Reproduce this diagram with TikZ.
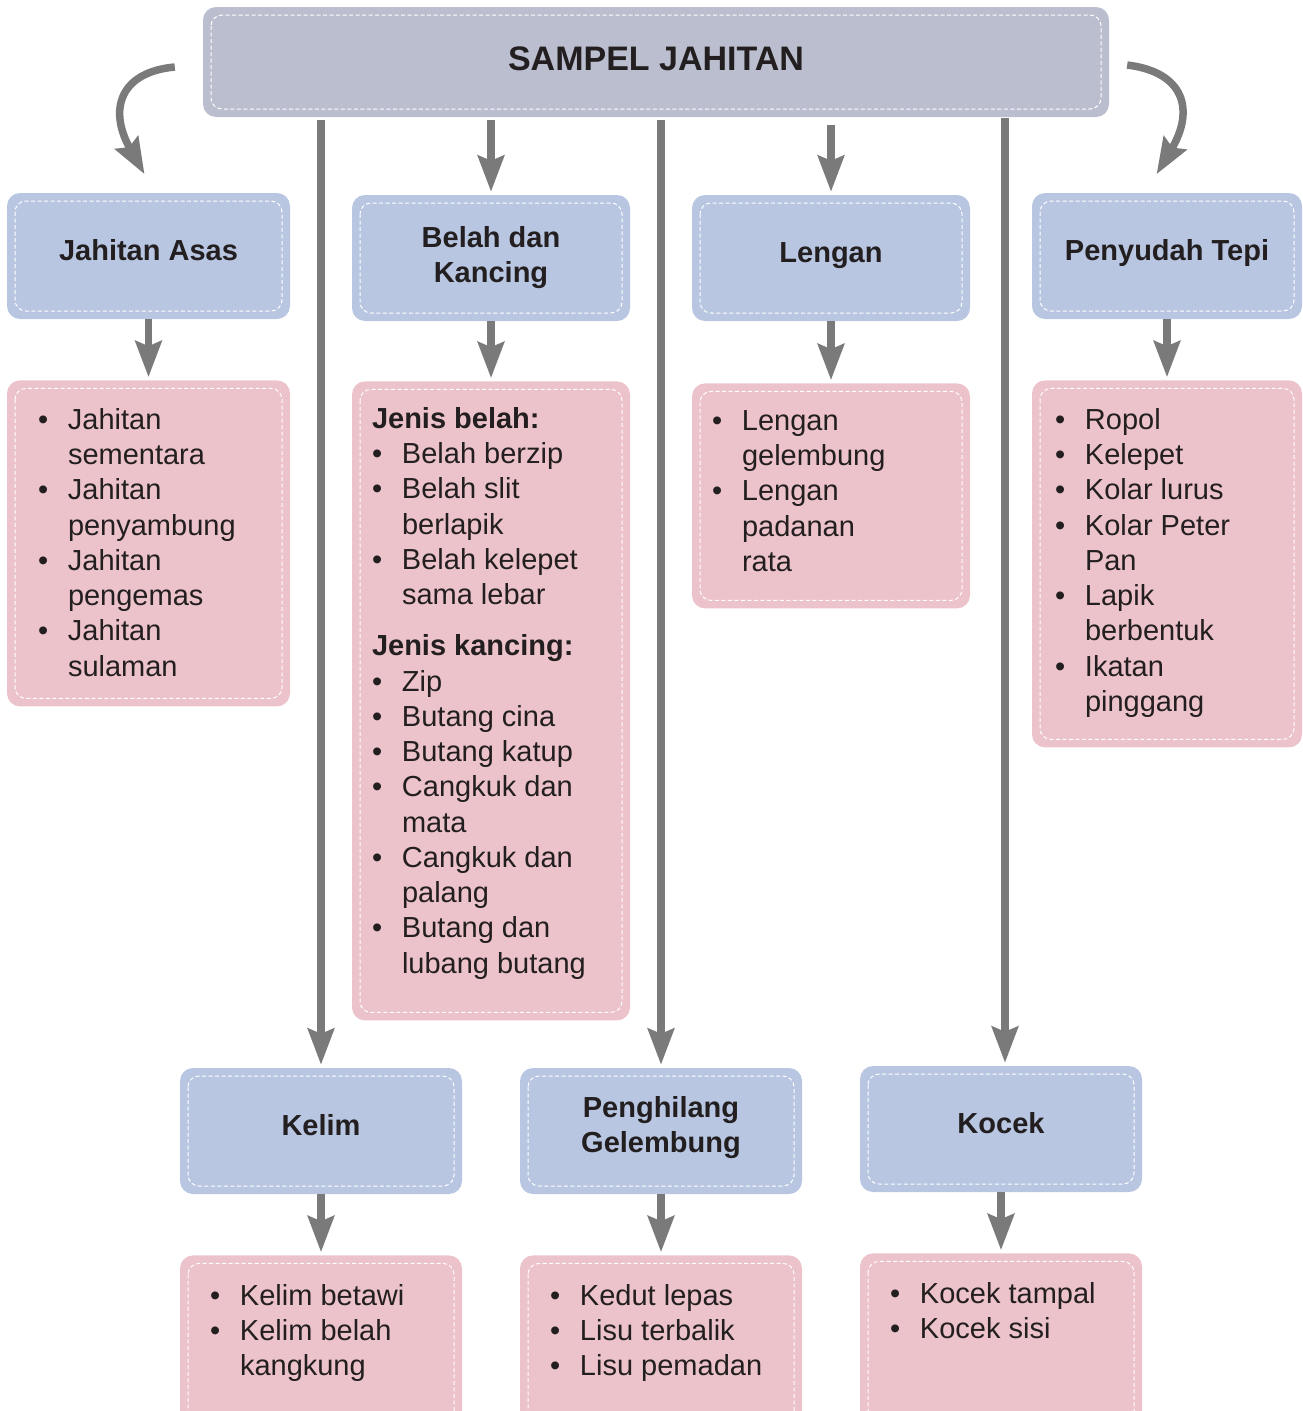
\documentclass[tikz,border=0pt]{standalone}
\usepackage{fontspec}
\setmainfont{Liberation Sans}
\usetikzlibrary{arrows.meta, positioning, calc}
\definecolor{TitleGrey}{HTML}{BBBECF}
\definecolor{HeadBlue}{HTML}{B8C6E1}
\definecolor{ListPink}{HTML}{ECC3CB}
\definecolor{ArrowGrey}{HTML}{7A7A7A}
\definecolor{InkBlack}{HTML}{231F20}
\newcommand{\bul}{\textbullet}
\newcommand{\itemlist}[2]{\makebox[#1][l]{\begin{tabular}[t]{@{}p{30pt}@{}l@{}}#2\end{tabular}}}

\begin{document}
\begin{tikzpicture}[x=1pt, y=-1pt, text=InkBlack,
  font=\fontsize{29}{35.25}\selectfont,
  box/.style={rounded corners=13pt,
    path picture={\draw[white, line width=1pt, dash pattern=on 4pt off 2.5pt, rounded corners=11pt]
      ([shift={(8pt,-8pt)}]path picture bounding box.north west) rectangle
      ([shift={(-8pt,8pt)}]path picture bounding box.south east);}},
  head/.style={box, fill=HeadBlue, minimum height=126pt, align=center,
               font=\fontsize{29}{35}\selectfont\bfseries},
  onehead/.style={head, text height=21pt, text depth=12pt},
  list/.style={box, fill=ListPink, inner ysep=0pt},
  flow/.style={-{Stealth[length=36pt, width=26pt, inset=5pt]}, line width=7.5pt,
               draw=ArrowGrey, shorten >=3pt}]
  \useasboundingbox (0,0) rectangle (1303,1411);

  \node[box, fill=TitleGrey, minimum width=906pt, minimum height=110pt,
        text height=24.5pt, text depth=8.5pt,
        font=\fontsize{34}{40}\selectfont\bfseries] (title) at (656,62) {SAMPEL JAHITAN};

  % top row
  \node[onehead, minimum width=283pt] (asas) at (148.5,256) {Jahitan Asas};
  \node[head, minimum width=278pt] (belah) at (491,258) {Belah dan\\Kancing};
  \node[onehead, minimum width=278pt] (lengan) at (831,258) {Lengan};
  \node[onehead, minimum width=270pt] (tepi) at (1167,256) {Penyudah Tepi};

  \node[list, below=61pt of asas, inner xsep=31pt, text height=49pt, text depth=277pt] (asaslist)
    {\itemlist{221pt}{\bul & Jahitan\\ & sementara\\ \bul & Jahitan\\ & penyambung\\
      \bul & Jahitan\\ & pengemas\\ \bul & Jahitan\\ & sulaman}};
  \node[list, below=60pt of belah, inner xsep=20pt, text height=47pt, text depth=592pt] (belahlist)
    {\itemlist{238pt}{\multicolumn{2}{@{}l@{}}{\bfseries Jenis belah:}\\
      \bul & Belah berzip\\ \bul & Belah slit\\ & berlapik\\ \bul & Belah kelepet\\ & sama lebar\\[16pt]
      \multicolumn{2}{@{}l@{}}{\bfseries Jenis kancing:}\\
      \bul & Zip\\ \bul & Butang cina\\ \bul & Butang katup\\ \bul & Cangkuk dan\\ & mata\\
      \bul & Cangkuk dan\\ & palang\\ \bul & Butang dan\\ & lubang butang}};
  \node[list, below=62pt of lengan, inner xsep=20pt, text height=47pt, text depth=178pt] (lenganlist)
    {\itemlist{238pt}{\bul & Lengan\\ & gelembung\\ \bul & Lengan\\ & padanan\\ & rata}};
  \node[list, below=61pt of tepi, inner xsep=23pt, text height=49pt, text depth=318pt] (tepilist)
    {\itemlist{224pt}{\bul & Ropol\\ \bul & Kelepet\\ \bul & Kolar lurus\\ \bul & Kolar Peter\\ & Pan\\
      \bul & Lapik\\ & berbentuk\\ \bul & Ikatan\\ & pinggang}};

  % bottom row
  \node[onehead, minimum width=282pt] (kelim) at (321,1131) {Kelim};
  \node[head, minimum width=282pt, text depth=14pt] (gelembung) at (661,1131) {Penghilang\\Gelembung};
  \node[onehead, minimum width=282pt] (kocek) at (1001,1129) {Kocek};

  \node[list, below=61pt of kelim, inner xsep=30pt, text height=50pt, text depth=125pt] (kelimlist)
    {\itemlist{222pt}{\bul & Kelim betawi\\ \bul & Kelim belah\\ & kangkung}};
  \node[list, below=61pt of gelembung, inner xsep=30pt, text height=50pt, text depth=125pt] (gelembunglist)
    {\itemlist{222pt}{\bul & Kedut lepas\\ \bul & Lisu terbalik\\ \bul & Lisu pemadan}};
  \node[list, below=61pt of kocek, inner xsep=30pt, text height=50pt, text depth=127pt] (koceklist)
    {\itemlist{222pt}{\bul & Kocek tampal\\ \bul & Kocek sisi}};

  % arrows from the title
  \draw[flow] ($(title.west)+(-28,5)$) .. controls +(-55,5) and +(-38,-67) .. ($(asas.north)+(-2.5,-16)$);
  \draw[flow] ($(title.east)+(18,3)$) .. controls +(57,7) and +(40,-67) .. ($(tepi.north)+(-12,-16)$);
  \draw[flow, shorten <=3pt] (belah.north |- title.south) -- (belah.north);
  \draw[flow, shorten <=8pt] (lengan.north |- title.south) -- (lengan.north);
  \draw[flow, shorten <=3pt] (kelim.north |- title.south) -- (kelim.north);
  \draw[flow, shorten <=3pt] (gelembung.north |- title.south) -- (gelembung.north);
  \draw[flow, shorten <=1pt] ([xshift=4pt]kocek.north |- title.south) -- ([xshift=4pt]kocek.north);

  % arrows into the lists
  \foreach \n in {asas, belah, lengan, tepi, kelim, gelembung, kocek}
    \draw[flow] (\n.south) -- (\n list.north);
\end{tikzpicture}
\end{document}
